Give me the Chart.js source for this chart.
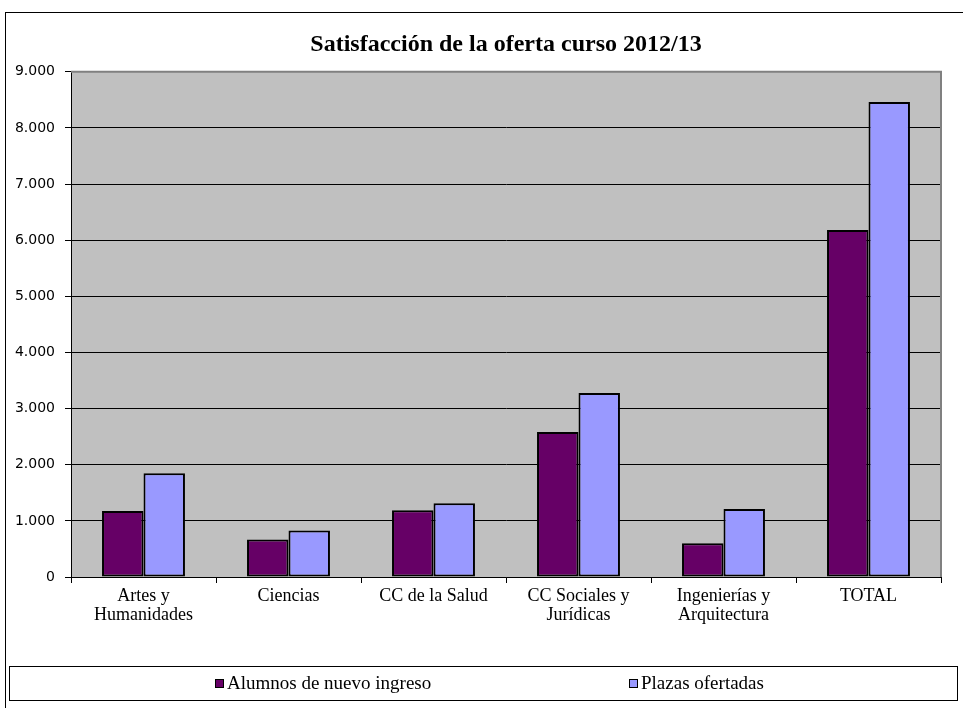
<!DOCTYPE html>
<html>
<head>
<meta charset="utf-8">
<script src="https://cdn.jsdelivr.net/npm/chart.js@4.4.1/dist/chart.umd.min.js"></script>
<style>
  body { margin: 0; background: #fff; }
</style>
</head>
<body>
<canvas id="chartCanvas" width="963" height="708"></canvas>
<script>
const categories = [
  ["Artes y", "Humanidades"],
  "Ciencias",
  "CC de la Salud",
  ["CC Sociales y", "Jurídicas"],
  ["Ingenierías y", "Arquitectura"],
  "TOTAL",
];
const alumnos = [1175, 670, 1190, 2585, 600, 6180];
const plazas = [1850, 830, 1315, 3280, 1210, 8460];
const seriesNames = ["Alumnos de nuevo ingreso", "Plazas ofertadas"];
const yMax = 9000;
const yStep = 1000;

const formatMiles = (v) => String(v).replace(/\B(?=(\d{3})+(?!\d))/g, ".");

// fondo gris del area, borde exterior y leyenda con recuadro
const excelFrame = {
  id: "excelFrame",
  beforeDraw(chart) {
    const { ctx, chartArea: a } = chart;
    ctx.save();
    ctx.fillStyle = "#fff";
    ctx.fillRect(0, 0, chart.width, chart.height);
    ctx.strokeStyle = "#000";
    ctx.lineWidth = 1;
    ctx.strokeRect(5.5, 12.5, 990, 720);
    ctx.fillStyle = "#c0c0c0";
    ctx.fillRect(a.left, a.top, a.right - a.left, a.bottom - a.top);
    ctx.restore();
  },
  beforeDatasetsDraw(chart) {
    const { ctx, chartArea: a } = chart;
    ctx.save();
    ctx.strokeStyle = "#808080";
    ctx.lineWidth = 2;
    ctx.beginPath();
    ctx.moveTo(a.left, a.top);
    ctx.lineTo(a.right, a.top);
    ctx.lineTo(a.right, a.bottom);
    ctx.stroke();
    ctx.restore();
  },
  afterDraw(chart) {
    const ctx = chart.ctx;
    ctx.save();
    ctx.strokeStyle = "#000";
    ctx.lineWidth = 1;
    ctx.strokeRect(9.5, 666.5, 948, 34);
    const xs = [215, 629];
    ctx.font = "19px 'Liberation Serif'";
    ctx.textBaseline = "alphabetic";
    chart.data.datasets.forEach((ds, i) => {
      ctx.fillStyle = ds.backgroundColor;
      ctx.fillRect(xs[i], 679, 8, 8);
      ctx.strokeRect(xs[i] + 0.5, 679.5, 8, 8);
      ctx.fillStyle = "#000";
      ctx.fillText(ds.label, xs[i] + 12, 689);
    });
    ctx.restore();
  },
};

const ctx = document.querySelector("#chartCanvas");

const chart = new Chart(ctx, {
  type: "bar",
  data: {
    labels: categories,
    datasets: [
      {
        label: seriesNames[0],
        data: alumnos,
        backgroundColor: "#660066",
        borderColor: "#000",
        borderWidth: 2,
        borderSkipped: false,
      },
      {
        label: seriesNames[1],
        data: plazas,
        backgroundColor: "#9999ff",
        borderColor: "#000",
        borderWidth: 2,
        borderSkipped: false,
      },
    ],
  },
  options: {
    responsive: false,
    animation: false,
    devicePixelRatio: 1,
    layout: {
      padding: { left: 0, right: 22, top: 0, bottom: 71 },
    },
    datasets: {
      bar: { categoryPercentage: 0.572, barPercentage: 1 },
    },
    plugins: {
      legend: { display: false },
      tooltip: { enabled: false },
      title: {
        display: true,
        fullSize: false,
        text: "Satisfacción de la oferta curso 2012/13",
        color: "#000",
        font: { family: "'Liberation Serif'", size: 24, weight: "bold", lineHeight: 1.2 },
        padding: { top: 30, bottom: 13 },
      },
    },
    scales: {
      x: {
        grid: {
          offset: true,
          drawOnChartArea: false,
          color: "#000",
          tickLength: 6,
        },
        border: { color: "#000", width: 1 },
        ticks: {
          color: "#000",
          maxRotation: 0,
          autoSkip: false,
          padding: 4,
          font: { family: "'Liberation Serif'", size: 18, lineHeight: 1.03 },
        },
        afterFit(scale) {
          scale.height = 60;
        },
      },
      y: {
        min: 0,
        max: yMax,
        grid: {
          color: (c) => (c.tick && c.tick.value === yMax ? "#808080" : "#000"),
          tickColor: "#000",
          tickLength: 6,
        },
        border: { color: "#000", width: 1 },
        ticks: {
          stepSize: yStep,
          color: "#000",
          padding: 10,
          font: { family: "'DejaVu Sans'", size: 14 },
          callback: (v) => formatMiles(v),
        },
        afterFit(scale) {
          scale.width = 71;
        },
      },
    },
  },
  plugins: [excelFrame],
});
</script>
</body>
</html>
